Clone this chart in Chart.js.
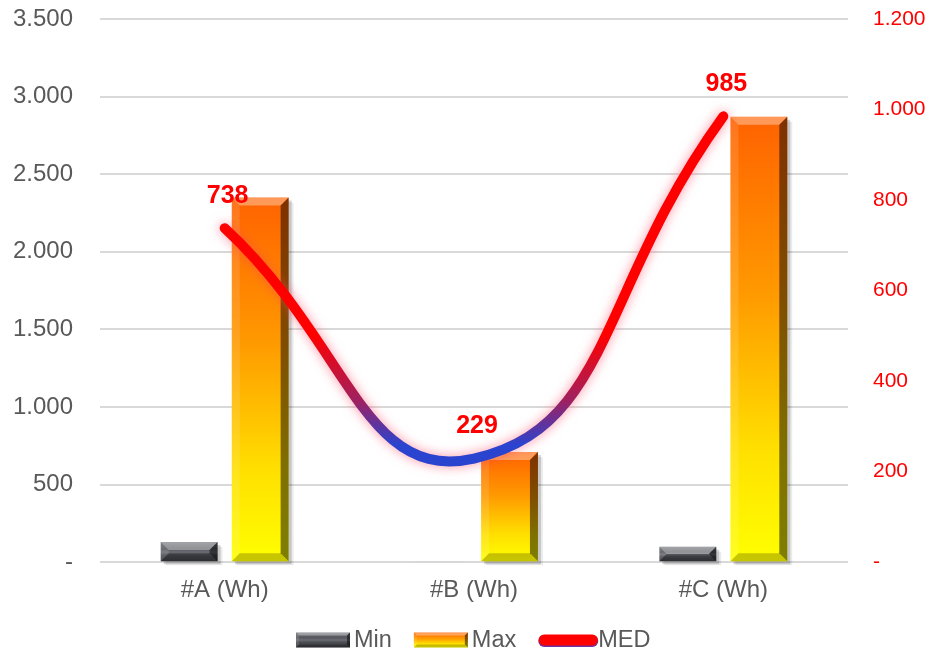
<!DOCTYPE html>
<html><head><meta charset="utf-8">
<script src="https://cdn.jsdelivr.net/npm/chart.js@4/dist/chart.umd.min.js"></script>
<style>html,body{margin:0;padding:0;background:#fff}#wrap{width:929px;height:651px}</style>
</head><body><div id="wrap"><canvas id="c" width="929" height="651"></canvas></div>
<script>
const categories = ['#A (Wh)', '#B (Wh)', '#C (Wh)'];
const minValues = [130, 8, 100];
const maxValues = [2350, 710, 2870];
const medValues = [738, 229, 985];
const leftTicks = [0, 500, 1000, 1500, 2000, 2500, 3000, 3500];
const rightTicks = [0, 200, 400, 600, 800, 1000, 1200];
const seriesNames = ['Min', 'Max', 'MED'];

const FONT = "'Liberation Sans', Arial, sans-serif";
function fmt(v){ if (v === 0) return '-'; return String(v).replace(/\B(?=(\d{3})+(?!\d))/g, '.'); }

const MIN_STOPS = [[0,'#70737a'],[0.35,'#55575d'],[0.5,'#6a6d73'],[0.65,'#4a4c52'],[1,'#36383c']];
const MAX_STOPS = [[0,'#ff6200'],[0.4,'#ff9a00'],[0.75,'#ffe000'],[1,'#ffff00']];

function barGrad(ctx, top, bottom, stops){
  const g = ctx.createLinearGradient(0, top, 0, bottom);
  stops.forEach(s => g.addColorStop(s[0], s[1]));
  return g;
}
function scriptBar(stops){
  return function(context){
    const chart = context.chart;
    if (!chart.chartArea || context.type !== 'data') return stops[0][1];
    const sc = chart.scales.y;
    const top = sc.getPixelForValue(context.parsed.y);
    const bottom = sc.getPixelForValue(0);
    if (bottom - top < 2) return '#cfcfcf';
    return barGrad(chart.ctx, top, bottom, stops);
  };
}

function bevel(ctx, x0, y0, x1, y1, b){
  ctx.save();
  ctx.fillStyle = 'rgba(255,255,255,0.35)';
  ctx.beginPath(); ctx.moveTo(x0,y0); ctx.lineTo(x1,y0); ctx.lineTo(x1-b,y0+b); ctx.lineTo(x0+b,y0+b); ctx.closePath(); ctx.fill();
  ctx.fillStyle = 'rgba(255,255,255,0.12)';
  ctx.beginPath(); ctx.moveTo(x0,y0); ctx.lineTo(x0+b,y0+b); ctx.lineTo(x0+b,y1-b); ctx.lineTo(x0,y1); ctx.closePath(); ctx.fill();
  ctx.fillStyle = 'rgba(0,0,0,0.5)';
  ctx.beginPath(); ctx.moveTo(x1,y0); ctx.lineTo(x1,y1); ctx.lineTo(x1-b,y1-b); ctx.lineTo(x1-b,y0+b); ctx.closePath(); ctx.fill();
  ctx.fillStyle = 'rgba(0,0,0,0.22)';
  ctx.beginPath(); ctx.moveTo(x0,y1); ctx.lineTo(x1,y1); ctx.lineTo(x1-b,y1-b); ctx.lineTo(x0+b,y1-b); ctx.closePath(); ctx.fill();
  ctx.restore();
}

const bevelPlugin = {
  id: 'bevel',
  beforeDatasetDraw(chart, args){
    const ds = chart.data.datasets[args.index];
    const ctx = chart.ctx;
    if (ds.type === 'line') {
      ctx.save();
      ctx.shadowColor = 'rgba(255,60,90,0.55)'; ctx.shadowBlur = 12;
    } else {
      const meta = chart.getDatasetMeta(args.index);
      ctx.save();
      meta.data.forEach(el => {
        const h = el.base - el.y; if (h < 3) return;
        const x0 = el.x - el.width/2;
        ctx.fillStyle = 'rgba(0,0,0,0.16)';
        ctx.fillRect(x0 + 3, el.y + 3, el.width, h);
        ctx.fillStyle = 'rgba(0,0,0,0.08)';
        ctx.fillRect(x0 + 5, el.y + 5, el.width, h - 1);
      });
      ctx.restore();
    }
  },
  afterDatasetDraw(chart, args){
    const ds = chart.data.datasets[args.index];
    const ctx = chart.ctx;
    if (ds.type === 'line') { ctx.restore(); return; }
    const meta = chart.getDatasetMeta(args.index);
    meta.data.forEach(el => {
      const h = el.base - el.y; if (h < 3) return;
      bevel(ctx, el.x - el.width/2, el.y, el.x + el.width/2, el.base, Math.min(8, h/2));
    });
  }
};

const labelPlugin = {
  id: 'medLabels',
  afterDatasetsDraw(chart){
    const idx = chart.data.datasets.findIndex(d => d.type === 'line');
    const meta = chart.getDatasetMeta(idx);
    const ctx = chart.ctx; ctx.save();
    ctx.font = "bold 25px " + FONT; ctx.fillStyle = '#ff0000';
    ctx.textAlign = 'center'; ctx.textBaseline = 'middle';
    meta.data.forEach((p, i) => { ctx.fillText(String(medValues[i]), p.x + 3, p.y - 32); });
    ctx.restore();
  }
};

const legendPlugin = {
  id: 'customLegend',
  afterDraw(chart){
    const ctx = chart.ctx; ctx.save();
    ctx.font = "23.5px " + FONT;
    ctx.textBaseline = 'middle'; ctx.textAlign = 'left';
    const y = 640, bw = 54, bh = 15, tg = 4, gap = 22;
    const w = seriesNames.map(n => ctx.measureText(n).width);
    const total = w.reduce((a,b)=>a+b,0) + 3*(bw+tg) + 2*gap;
    let x = Math.round((chart.width - total)/2) + 8;
    seriesNames.forEach((n, i) => {
      const top = y - bh/2, bot = y + bh/2;
      if (i === 2) {
        ctx.save();
        ctx.lineCap = 'round';
        ctx.strokeStyle = '#7030a0'; ctx.lineWidth = 12;
        ctx.beginPath(); ctx.moveTo(x+6, y+1); ctx.lineTo(x+bw, y+1); ctx.stroke();
        ctx.strokeStyle = '#ff0000'; ctx.lineWidth = 11;
        ctx.beginPath(); ctx.moveTo(x+6, y); ctx.lineTo(x+bw, y); ctx.stroke();
        ctx.restore();
        ctx.fillStyle = '#595959';
        ctx.fillText(n, x + bw + 6, y + 1);
      } else {
        ctx.fillStyle = barGrad(ctx, top, bot, i === 0 ? MIN_STOPS : MAX_STOPS);
        ctx.fillRect(x, top, bw, bh);
        bevel(ctx, x, top, x+bw, bot, 3);
        ctx.fillStyle = '#595959';
        ctx.fillText(n, x + bw + tg, y + 1);
      }
      x += bw + tg + w[i] + gap;
    });
    ctx.restore();
  }
};

new Chart(document.getElementById('c'), {
  data: {
    labels: categories,
    datasets: [
      { type: 'line', label: 'MED', data: medValues, yAxisID: 'y1', order: 0,
        borderWidth: 10, pointRadius: 0, tension: 0.5, fill: false, borderCapStyle: 'round',
        borderColor(context){
          const chart = context.chart; const a = chart.chartArea;
          if (!a) return '#ff0000';
          const g = chart.ctx.createLinearGradient(0, a.top, 0, a.bottom);
          const f = y => Math.min(1, Math.max(0, (y - a.top)/(a.bottom - a.top)));
          g.addColorStop(0, '#ff0000'); g.addColorStop(f(335), '#ff0000');
          g.addColorStop(f(400), '#a02060'); g.addColorStop(f(445), '#2a44d0'); g.addColorStop(1, '#2a44d0');
          return g;
        } },
      { type: 'bar', label: 'Min', data: minValues, yAxisID: 'y', order: 1,
        backgroundColor: scriptBar(MIN_STOPS),
        borderWidth: 0, barPercentage: 0.8, categoryPercentage: 0.57 },
      { type: 'bar', label: 'Max', data: maxValues, yAxisID: 'y', order: 1,
        backgroundColor: scriptBar(MAX_STOPS),
        borderWidth: 0, barPercentage: 0.8, categoryPercentage: 0.57 }
    ]
  },
  options: {
    responsive: false, animation: false,
    layout: { padding: { top: 0, left: 0, right: 0, bottom: 32 } },
    plugins: { tooltip: { enabled: false }, legend: { display: false } },
    scales: {
      x: {
        grid: { display: false, drawTicks: false }, border: { display: false },
        ticks: { font: { family: FONT, size: 24 }, color: '#595959', padding: 14 }
      },
      y: {
        position: 'left', min: 0, max: 3500,
        afterBuildTicks(s){ s.ticks = leftTicks.map(v => ({ value: v })); },
        afterFit(s){ s.width = 100; s.paddingTop = 19; s.paddingBottom = 0; },
        grid: { color: '#d9d9d9', lineWidth: 2, drawTicks: false }, border: { display: false },
        ticks: { font: { family: FONT, size: 24 }, color: '#595959', padding: 27, callback: v => fmt(v) }
      },
      y1: {
        position: 'right', min: 0, max: 1200,
        afterBuildTicks(s){ s.ticks = rightTicks.map(v => ({ value: v })); },
        afterFit(s){ s.width = 81; s.paddingTop = 19; s.paddingBottom = 0; },
        grid: { display: false, drawTicks: false }, border: { display: false },
        ticks: { font: { family: FONT, size: 21 }, color: '#ff0000', padding: 25, callback: v => fmt(v) }
      }
    }
  },
  plugins: [bevelPlugin, labelPlugin, legendPlugin]
});
</script></body></html>
